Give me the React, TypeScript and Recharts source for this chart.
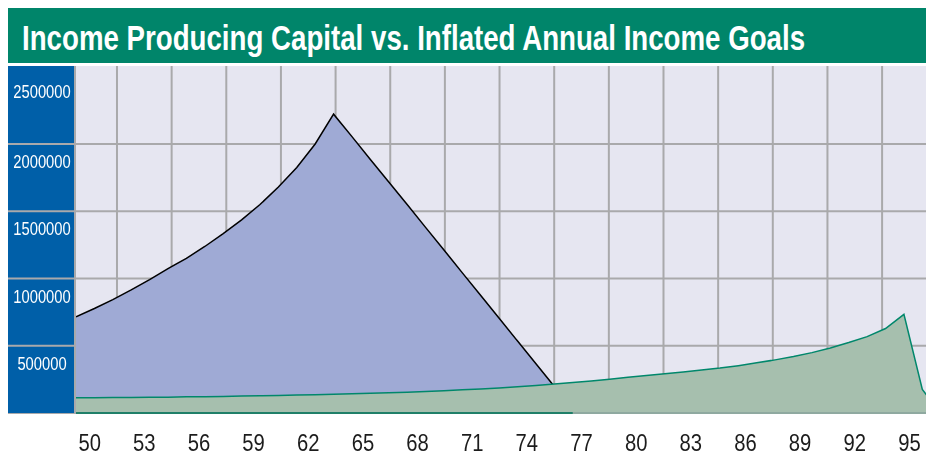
import React from 'react';
import { AreaChart, Area, XAxis, YAxis, CartesianGrid, ReferenceLine } from 'recharts';

const ages = [
  50, 51, 52, 53, 54, 55, 56, 57, 58, 59, 60, 61, 62, 63, 64, 65, 66, 67, 68, 69, 70, 71, 72, 73,
  74, 75, 76, 77, 78, 79, 80, 81, 82, 83, 84, 85, 86, 87, 88, 89, 90, 91, 92, 93, 94, 95, 96, 97,
];

// income producing capital, runs out at 77
const capital = [
  715000, 777000, 843000, 915000, 992000, 1074000, 1150000, 1238000, 1333000, 1436000, 1550000,
  1680000, 1826000, 2000000, 2222000, 2055000, 1885000, 1718000, 1550000, 1380000, 1212000,
  1042000, 873000, 705000, 535000, 366000, 197000, 0, null, null, null, null, null, null, null,
  null, null, null, null, null, null, null, null, null, null, null, null, null,
];

// inflated annual income goal
const incomeGoal = [
  114000, 114000, 115000, 116000, 117000, 118000, 120000, 121000, 123000, 126000, 128000, 130000,
  133000, 136000, 139000, 143000, 146000, 151000, 155000, 160000, 166000, 172000, 179000, 186000,
  195000, 204000, 216000, 227000, 238000, 251000, 265000, 278000, 291000, 305000, 320000, 334000,
  352000, 373000, 395000, 420000, 449000, 484000, 524000, 568000, 628000, 733000, 175000, 0,
];

const xTicks = [50, 53, 56, 59, 62, 65, 68, 71, 74, 77, 80, 83, 86, 89, 92, 95];
const yTicks = [500000, 1000000, 1500000, 2000000, 2500000];
const gridAges = [51.5, 54.5, 57.5, 60.5, 63.5, 66.5, 69.5, 72.5, 75.5, 78.5, 81.5, 84.5, 87.5, 90.5, 93.5];
const gridValues = [500000, 1000000, 1500000, 2000000];

const data = ages.map((age, i) => ({ age, capital: capital[i], goal: incomeGoal[i] }));
const capitalEnd = ages[capital.indexOf(0)];
const topTick = yTicks[yTicks.length - 1];

const TITLE_GREEN = '#00856a';
const PANEL_BLUE = '#005fa8';
const GRID = '#a9a9ab';
const NARROW = "'Liberation Sans Narrow', 'Arial Narrow', 'Liberation Sans', Arial, sans-serif";

const YTick = ({ x, y, payload }: any) => (
  <g>
    {payload.value < topTick && (
      <line x1={x - 68} x2={x} y1={y} y2={y} stroke={GRID} strokeWidth={2} />
    )}
    <text
      x={x - 34}
      y={y + (payload.value === topTick ? 21 : 24)}
      textAnchor="middle"
      fill="#ffffff"
      fontSize={18}
      fontFamily={NARROW}
      textLength={String(payload.value).length * 8.2}
      lengthAdjust="spacingAndGlyphs"
    >
      {payload.value}
    </text>
  </g>
);

const XTick = ({ x, y, payload }: any) => (
  <text
    x={x}
    y={y + 38}
    textAnchor="middle"
    fill="#1c1c1c"
    fontSize={24}
    fontFamily={NARROW}
    textLength={22.5}
    lengthAdjust="spacingAndGlyphs"
  >
    {payload.value}
  </text>
);

export default function App() {
  return (
    <div style={{ position: 'fixed', left: 8, top: 8, width: 918 }}>
      <svg width={918} height={55} style={{ display: 'block' }}>
        <rect width={918} height={55} fill={TITLE_GREEN} />
        <text
          transform="translate(14,42) scale(0.77,1)"
          fill="#ffffff"
          fontSize={36}
          fontWeight="bold"
          fontFamily={NARROW}
          textLength={1017}
          lengthAdjust="spacingAndGlyphs"
        >
          Income Producing Capital vs. Inflated Annual Income Goals
        </text>
      </svg>
      <div style={{ height: 3 }} />
      <div style={{ position: 'relative', width: 918, height: 390 }}>
        <div
          style={{
            position: 'absolute',
            left: 0,
            top: 0,
            width: 66,
            height: 347,
            background: PANEL_BLUE,
            borderRight: `2px solid ${GRID}`,
            borderBottom: `1px solid ${GRID}`,
          }}
        />
        <div style={{ position: 'absolute', left: 0, top: 0 }}>
          <AreaChart width={918} height={390} data={data} margin={{ top: 0, right: 0, bottom: 0, left: 0 }}>
            <CartesianGrid
              xAxisId="lab"
              fill="#e6e6f1"
              fillOpacity={1}
              stroke={GRID}
              strokeWidth={2}
              verticalValues={gridAges}
              horizontalValues={gridValues}
            />
            <XAxis
              xAxisId="age"
              dataKey="age"
              type="number"
              domain={[50, 96.2]}
              allowDataOverflow
              orientation="top"
              height={0}
              hide
            />
            <XAxis
              xAxisId="lab"
              dataKey="age"
              type="number"
              domain={[49.25, 95.91]}
              allowDataOverflow
              ticks={xTicks}
              tick={<XTick />}
              axisLine={false}
              tickLine={false}
              tickSize={0}
              tickMargin={0}
              height={43}
              interval={0}
            />
            <YAxis
              type="number"
              domain={[0, 2580000]}
              allowDataOverflow
              ticks={yTicks}
              tick={<YTick />}
              axisLine={false}
              tickLine={false}
              tickSize={0}
              tickMargin={0}
              width={68}
              interval={0}
            />
            <Area
              xAxisId="age"
              type="linear"
              dataKey="capital"
              fill="#9faad5"
              fillOpacity={1}
              stroke="#000000"
              strokeWidth={1.5}
              dot={false}
              activeDot={false}
              isAnimationActive={false}
            />
            <Area
              xAxisId="age"
              type="linear"
              dataKey="goal"
              fill="#a6bfae"
              fillOpacity={1}
              stroke="#00876b"
              strokeWidth={1.5}
              dot={false}
              activeDot={false}
              isAnimationActive={false}
            />
            <ReferenceLine xAxisId="age" y={0} stroke="#8fa9a0" strokeWidth={2} />
            <ReferenceLine
              xAxisId="age"
              segment={[{ x: 50, y: 0 }, { x: capitalEnd, y: 0 }]}
              stroke="#1f7f68"
              strokeWidth={2}
            />
          </AreaChart>
        </div>
      </div>
    </div>
  );
}
